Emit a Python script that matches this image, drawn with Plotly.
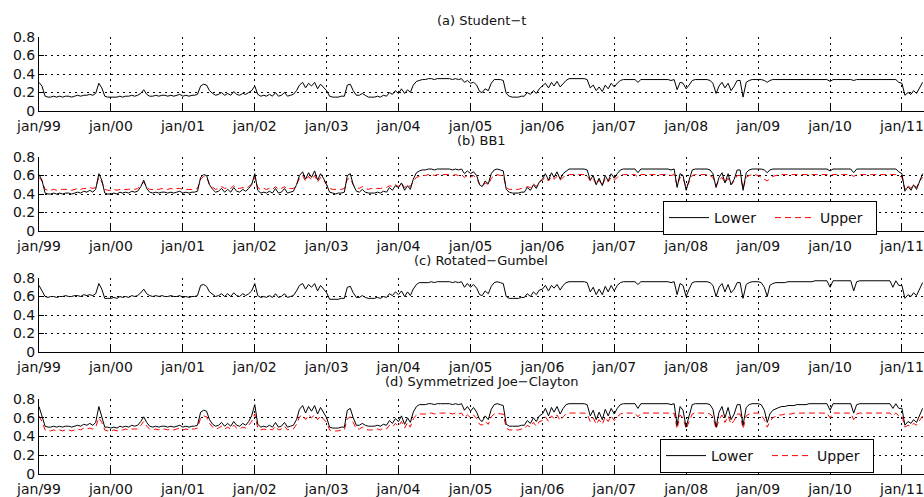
import plotly.graph_objects as go
import pandas as pd

# Semi-monthly sample dates (1st and 16th of each month), Jan 1999 - Apr 2011
dates = [pd.Timestamp(y, m, d) for y in range(1999, 2012) for m in range(1, 13) for d in (1, 16)
         if pd.Timestamp(y, m, d) <= pd.Timestamp(2011, 4, 16)]

tick_dates = [f"{y}-01-01" for y in range(1999, 2012)]
tick_labels = ["jan/99", "jan/00", "jan/01", "jan/02", "jan/03", "jan/04", "jan/05",
               "jan/06", "jan/07", "jan/08", "jan/09", "jan/10", "jan/11"]

panel_titles = ["(a) Student\u2212t", "(b) BB1", "(c) Rotated\u2212Gumbel", "(d) Symmetrized Joe\u2212Clayton"]
y_ticks = [0, 0.2, 0.4, 0.6, 0.8]
y_ticklabels = ["0", "0.2", "0.4", "0.6", "0.8"]

student_t = [
    0.31,0.27,0.16,0.15,0.15,0.16,0.15,0.16,0.15,0.16,0.16,0.15,0.16,0.17,0.16,0.17,0.17,0.18,0.17,0.19,0.30,0.25,0.16,0.15,
    0.15,0.15,0.15,0.16,0.15,0.16,0.16,0.17,0.16,0.17,0.19,0.23,0.18,0.16,0.16,0.17,0.16,0.17,0.17,0.16,0.17,0.16,0.17,0.18,
    0.16,0.17,0.16,0.17,0.17,0.18,0.27,0.29,0.28,0.22,0.19,0.17,0.18,0.20,0.17,0.19,0.17,0.21,0.18,0.17,0.19,0.18,0.20,0.22,
    0.27,0.18,0.16,0.17,0.16,0.18,0.16,0.20,0.16,0.17,0.20,0.16,0.17,0.18,0.22,0.28,0.31,0.25,0.30,0.27,0.31,0.24,0.29,0.26,
    0.22,0.16,0.15,0.15,0.15,0.16,0.16,0.28,0.29,0.22,0.17,0.17,0.19,0.17,0.15,0.15,0.15,0.16,0.15,0.17,0.16,0.20,0.18,0.22,
    0.19,0.24,0.19,0.23,0.20,0.28,0.32,0.33,0.34,0.34,0.35,0.35,0.34,0.35,0.35,0.35,0.35,0.35,0.34,0.35,0.34,0.35,0.31,0.33,
    0.30,0.31,0.28,0.21,0.20,0.24,0.22,0.30,0.34,0.34,0.34,0.33,0.19,0.16,0.15,0.15,0.15,0.16,0.16,0.20,0.18,0.22,0.19,0.24,
    0.27,0.30,0.25,0.31,0.27,0.32,0.26,0.30,0.33,0.35,0.35,0.35,0.35,0.35,0.35,0.34,0.25,0.28,0.22,0.26,0.21,0.28,0.24,0.30,
    0.26,0.30,0.33,0.34,0.34,0.34,0.34,0.34,0.31,0.34,0.34,0.34,0.34,0.34,0.34,0.34,0.34,0.34,0.34,0.33,0.34,0.23,0.31,0.30,
    0.24,0.28,0.33,0.34,0.34,0.34,0.34,0.34,0.33,0.30,0.19,0.27,0.31,0.25,0.30,0.22,0.27,0.33,0.33,0.15,0.31,0.33,0.34,0.34,
    0.34,0.34,0.33,0.31,0.33,0.34,0.34,0.34,0.34,0.34,0.34,0.34,0.34,0.34,0.34,0.34,0.34,0.34,0.34,0.34,0.34,0.34,0.34,0.34,
    0.32,0.34,0.34,0.34,0.34,0.34,0.34,0.34,0.33,0.34,0.34,0.34,0.34,0.34,0.34,0.34,0.34,0.34,0.34,0.34,0.34,0.34,0.34,0.31,
    0.30,0.17,0.20,0.18,0.22,0.19,0.25,0.31,
]

bb1_lower = [
    0.61,0.55,0.41,0.40,0.40,0.41,0.40,0.41,0.40,0.41,0.41,0.40,0.41,0.42,0.41,0.43,0.42,0.44,0.42,0.45,0.62,0.55,0.41,0.40,
    0.40,0.41,0.40,0.42,0.41,0.42,0.41,0.43,0.42,0.43,0.48,0.55,0.46,0.42,0.41,0.42,0.41,0.42,0.42,0.41,0.42,0.41,0.42,0.43,
    0.41,0.42,0.41,0.42,0.42,0.43,0.58,0.61,0.60,0.50,0.45,0.42,0.43,0.46,0.42,0.45,0.42,0.47,0.43,0.42,0.45,0.43,0.46,0.50,
    0.62,0.44,0.41,0.42,0.41,0.43,0.41,0.46,0.41,0.42,0.46,0.41,0.42,0.43,0.50,0.60,0.64,0.56,0.63,0.58,0.65,0.55,0.62,0.57,
    0.50,0.42,0.41,0.40,0.41,0.41,0.42,0.60,0.62,0.50,0.43,0.42,0.45,0.42,0.41,0.41,0.41,0.42,0.41,0.43,0.42,0.47,0.44,0.49,
    0.47,0.52,0.44,0.49,0.45,0.56,0.63,0.65,0.66,0.66,0.67,0.67,0.66,0.67,0.67,0.67,0.67,0.67,0.66,0.67,0.66,0.67,0.62,0.65,
    0.62,0.64,0.60,0.50,0.48,0.54,0.51,0.62,0.66,0.67,0.66,0.65,0.45,0.42,0.41,0.41,0.41,0.42,0.42,0.47,0.44,0.50,0.46,0.53,
    0.56,0.62,0.55,0.63,0.58,0.64,0.56,0.62,0.65,0.67,0.67,0.67,0.67,0.67,0.67,0.66,0.55,0.60,0.50,0.57,0.49,0.60,0.54,0.62,
    0.57,0.62,0.66,0.67,0.67,0.67,0.67,0.67,0.63,0.67,0.67,0.67,0.67,0.67,0.67,0.67,0.67,0.67,0.67,0.66,0.67,0.47,0.62,0.60,
    0.44,0.55,0.66,0.67,0.67,0.67,0.67,0.67,0.66,0.62,0.47,0.58,0.63,0.52,0.62,0.50,0.56,0.66,0.66,0.44,0.63,0.66,0.67,0.67,
    0.67,0.67,0.66,0.63,0.66,0.67,0.67,0.67,0.67,0.67,0.67,0.67,0.67,0.67,0.67,0.67,0.67,0.67,0.67,0.67,0.67,0.67,0.67,0.67,
    0.65,0.67,0.67,0.67,0.67,0.67,0.67,0.67,0.63,0.67,0.67,0.67,0.67,0.67,0.67,0.67,0.67,0.67,0.67,0.67,0.67,0.67,0.67,0.64,
    0.62,0.43,0.48,0.44,0.50,0.45,0.55,0.62,
]

bb1_upper = [
    0.58,0.54,0.45,0.44,0.44,0.45,0.44,0.45,0.45,0.45,0.45,0.44,0.45,0.46,0.45,0.46,0.46,0.47,0.46,0.47,0.58,0.53,0.45,0.44,
    0.44,0.45,0.44,0.45,0.45,0.45,0.45,0.46,0.45,0.46,0.49,0.53,0.47,0.45,0.45,0.45,0.45,0.46,0.45,0.45,0.46,0.45,0.46,0.46,
    0.45,0.45,0.45,0.45,0.45,0.46,0.56,0.59,0.58,0.50,0.47,0.45,0.46,0.48,0.46,0.47,0.46,0.49,0.46,0.46,0.47,0.46,0.48,0.51,
    0.58,0.47,0.45,0.46,0.45,0.46,0.45,0.48,0.45,0.46,0.48,0.45,0.46,0.46,0.50,0.57,0.60,0.54,0.59,0.55,0.60,0.53,0.58,0.55,
    0.50,0.46,0.45,0.45,0.45,0.45,0.46,0.56,0.57,0.50,0.47,0.46,0.48,0.46,0.45,0.46,0.46,0.46,0.46,0.47,0.47,0.49,0.48,0.50,
    0.48,0.52,0.47,0.50,0.48,0.54,0.58,0.59,0.60,0.60,0.61,0.61,0.60,0.61,0.61,0.61,0.61,0.61,0.60,0.61,0.60,0.61,0.58,0.60,
    0.58,0.60,0.57,0.50,0.48,0.52,0.50,0.57,0.60,0.61,0.60,0.60,0.47,0.45,0.45,0.45,0.45,0.46,0.46,0.48,0.47,0.51,0.48,0.53,
    0.55,0.58,0.54,0.59,0.56,0.59,0.55,0.58,0.60,0.61,0.61,0.61,0.61,0.61,0.61,0.60,0.54,0.57,0.50,0.55,0.49,0.57,0.53,0.58,
    0.55,0.58,0.60,0.61,0.61,0.61,0.61,0.61,0.58,0.61,0.61,0.61,0.61,0.61,0.61,0.61,0.61,0.61,0.61,0.60,0.61,0.49,0.58,0.57,
    0.47,0.53,0.60,0.61,0.61,0.61,0.61,0.61,0.60,0.58,0.49,0.55,0.58,0.52,0.57,0.50,0.54,0.60,0.60,0.46,0.58,0.60,0.61,0.61,
    0.60,0.58,0.56,0.54,0.57,0.59,0.60,0.61,0.61,0.61,0.61,0.61,0.61,0.61,0.61,0.61,0.61,0.61,0.61,0.61,0.61,0.61,0.61,0.61,
    0.60,0.61,0.61,0.61,0.61,0.61,0.61,0.61,0.59,0.61,0.61,0.61,0.61,0.61,0.61,0.61,0.61,0.61,0.61,0.61,0.61,0.61,0.61,0.60,
    0.58,0.45,0.49,0.46,0.50,0.47,0.54,0.58,
]

rot_gumbel = [
    0.72,0.66,0.60,0.59,0.60,0.60,0.59,0.60,0.60,0.61,0.60,0.60,0.61,0.61,0.60,0.62,0.61,0.62,0.61,0.63,0.74,0.68,0.58,0.58,
    0.58,0.59,0.58,0.60,0.59,0.60,0.59,0.61,0.60,0.61,0.64,0.68,0.63,0.61,0.60,0.61,0.60,0.61,0.60,0.60,0.61,0.60,0.60,0.61,
    0.59,0.60,0.59,0.60,0.60,0.61,0.72,0.73,0.71,0.65,0.62,0.60,0.61,0.63,0.60,0.63,0.60,0.64,0.61,0.60,0.63,0.61,0.63,0.66,
    0.74,0.61,0.59,0.60,0.59,0.61,0.59,0.63,0.59,0.60,0.63,0.59,0.60,0.61,0.66,0.72,0.74,0.68,0.73,0.70,0.74,0.66,0.72,0.68,
    0.64,0.57,0.57,0.57,0.57,0.58,0.58,0.70,0.71,0.64,0.59,0.59,0.61,0.59,0.58,0.58,0.58,0.59,0.58,0.60,0.59,0.63,0.61,0.65,
    0.62,0.66,0.60,0.65,0.61,0.68,0.73,0.75,0.75,0.75,0.75,0.76,0.75,0.76,0.76,0.76,0.76,0.76,0.75,0.76,0.75,0.76,0.70,0.74,
    0.70,0.73,0.69,0.62,0.61,0.66,0.63,0.71,0.75,0.76,0.75,0.74,0.60,0.58,0.58,0.58,0.58,0.59,0.59,0.63,0.60,0.65,0.62,0.67,
    0.68,0.72,0.66,0.72,0.69,0.73,0.67,0.72,0.75,0.76,0.76,0.76,0.76,0.76,0.76,0.75,0.65,0.70,0.62,0.68,0.62,0.71,0.65,0.72,
    0.66,0.72,0.75,0.76,0.76,0.76,0.76,0.76,0.73,0.76,0.76,0.76,0.76,0.76,0.76,0.76,0.76,0.76,0.76,0.75,0.76,0.62,0.74,0.72,
    0.60,0.68,0.75,0.76,0.76,0.76,0.76,0.76,0.75,0.72,0.60,0.70,0.74,0.65,0.73,0.64,0.68,0.75,0.75,0.58,0.73,0.75,0.76,0.76,
    0.76,0.75,0.70,0.60,0.72,0.74,0.75,0.75,0.75,0.75,0.76,0.76,0.76,0.76,0.76,0.76,0.76,0.76,0.76,0.77,0.77,0.77,0.77,0.77,
    0.70,0.77,0.77,0.77,0.77,0.77,0.77,0.77,0.66,0.76,0.77,0.77,0.77,0.77,0.77,0.77,0.77,0.77,0.77,0.77,0.77,0.70,0.77,0.72,
    0.72,0.58,0.62,0.60,0.64,0.61,0.68,0.75,
]

sjc_lower = [
    0.72,0.62,0.51,0.50,0.50,0.51,0.50,0.51,0.50,0.51,0.51,0.50,0.51,0.52,0.51,0.53,0.52,0.54,0.52,0.55,0.72,0.62,0.50,0.50,
    0.49,0.50,0.49,0.51,0.50,0.51,0.50,0.52,0.51,0.52,0.56,0.61,0.55,0.51,0.50,0.51,0.50,0.51,0.51,0.50,0.51,0.50,0.51,0.52,
    0.50,0.51,0.50,0.51,0.51,0.52,0.66,0.68,0.67,0.58,0.53,0.51,0.52,0.55,0.51,0.54,0.51,0.56,0.52,0.51,0.54,0.52,0.56,0.62,
    0.74,0.53,0.50,0.51,0.50,0.52,0.50,0.55,0.50,0.51,0.55,0.50,0.51,0.52,0.58,0.69,0.73,0.65,0.72,0.67,0.73,0.64,0.71,0.66,
    0.60,0.50,0.49,0.49,0.49,0.50,0.50,0.68,0.70,0.60,0.52,0.52,0.54,0.52,0.51,0.51,0.51,0.52,0.51,0.53,0.52,0.57,0.54,0.59,
    0.56,0.62,0.53,0.60,0.55,0.66,0.72,0.74,0.74,0.74,0.75,0.75,0.74,0.75,0.75,0.75,0.75,0.75,0.74,0.75,0.74,0.75,0.68,0.72,
    0.67,0.71,0.66,0.58,0.56,0.62,0.58,0.69,0.74,0.75,0.74,0.73,0.53,0.51,0.51,0.51,0.51,0.52,0.52,0.57,0.54,0.60,0.56,0.62,
    0.64,0.70,0.62,0.71,0.66,0.72,0.64,0.70,0.74,0.75,0.75,0.75,0.75,0.75,0.75,0.74,0.62,0.68,0.58,0.66,0.58,0.69,0.62,0.70,
    0.64,0.70,0.74,0.75,0.75,0.75,0.75,0.75,0.70,0.75,0.75,0.75,0.75,0.75,0.75,0.75,0.75,0.75,0.75,0.74,0.75,0.52,0.72,0.68,
    0.50,0.62,0.74,0.75,0.75,0.75,0.75,0.75,0.74,0.69,0.50,0.66,0.72,0.60,0.71,0.58,0.64,0.74,0.74,0.52,0.71,0.74,0.75,0.75,
    0.75,0.74,0.68,0.55,0.64,0.68,0.70,0.71,0.72,0.72,0.73,0.73,0.73,0.74,0.74,0.74,0.74,0.75,0.75,0.75,0.75,0.75,0.75,0.75,
    0.68,0.75,0.75,0.75,0.75,0.75,0.75,0.75,0.65,0.74,0.75,0.75,0.75,0.75,0.75,0.75,0.75,0.75,0.75,0.75,0.75,0.70,0.75,0.70,
    0.70,0.52,0.56,0.54,0.58,0.55,0.62,0.70,
]

sjc_upper = [
    0.62,0.56,0.47,0.46,0.46,0.47,0.46,0.47,0.46,0.47,0.47,0.46,0.47,0.48,0.47,0.49,0.48,0.49,0.48,0.50,0.60,0.55,0.47,0.46,
    0.46,0.47,0.46,0.47,0.47,0.48,0.47,0.48,0.48,0.48,0.52,0.56,0.51,0.48,0.47,0.48,0.47,0.48,0.48,0.47,0.48,0.47,0.48,0.49,
    0.47,0.48,0.47,0.48,0.48,0.49,0.60,0.62,0.61,0.54,0.50,0.48,0.49,0.51,0.48,0.50,0.48,0.52,0.49,0.48,0.50,0.49,0.52,0.56,
    0.64,0.49,0.47,0.48,0.47,0.48,0.47,0.51,0.47,0.48,0.51,0.47,0.48,0.48,0.53,0.61,0.63,0.58,0.63,0.60,0.63,0.58,0.62,0.59,
    0.55,0.47,0.46,0.46,0.46,0.47,0.47,0.59,0.61,0.55,0.48,0.48,0.50,0.48,0.47,0.47,0.47,0.48,0.47,0.49,0.48,0.52,0.50,0.54,
    0.51,0.56,0.49,0.55,0.50,0.59,0.63,0.64,0.64,0.64,0.65,0.65,0.64,0.65,0.65,0.65,0.65,0.65,0.64,0.65,0.64,0.65,0.60,0.63,
    0.60,0.63,0.59,0.53,0.52,0.56,0.53,0.61,0.64,0.65,0.64,0.64,0.49,0.47,0.47,0.47,0.47,0.48,0.48,0.52,0.50,0.55,0.51,0.56,
    0.57,0.61,0.56,0.62,0.59,0.63,0.57,0.61,0.64,0.65,0.65,0.65,0.65,0.65,0.65,0.64,0.56,0.60,0.53,0.58,0.53,0.61,0.56,0.62,
    0.57,0.61,0.64,0.65,0.65,0.65,0.65,0.65,0.61,0.65,0.65,0.65,0.65,0.65,0.65,0.65,0.65,0.65,0.65,0.64,0.65,0.48,0.63,0.60,
    0.48,0.56,0.64,0.65,0.65,0.65,0.65,0.65,0.64,0.61,0.48,0.58,0.63,0.55,0.62,0.53,0.57,0.64,0.64,0.48,0.62,0.64,0.65,0.65,
    0.65,0.63,0.58,0.50,0.56,0.60,0.62,0.63,0.63,0.64,0.64,0.64,0.65,0.65,0.65,0.65,0.65,0.65,0.65,0.65,0.65,0.65,0.65,0.65,
    0.60,0.65,0.65,0.65,0.65,0.65,0.65,0.65,0.58,0.64,0.65,0.65,0.65,0.65,0.65,0.65,0.65,0.65,0.65,0.65,0.65,0.62,0.65,0.62,
    0.62,0.50,0.52,0.51,0.54,0.52,0.57,0.62,
]

for name, s in [("st", student_t), ("bbl", bb1_lower), ("bbu", bb1_upper), ("rg", rot_gumbel),
                ("sjl", sjc_lower), ("sju", sjc_upper)]:
    assert len(s) == len(dates), (name, len(s), len(dates))

W, H = 924, 497
FONT = "DejaVu Sans"
TXT = "#111111"
panels_px = [(37, 111), (157, 231), (278, 352), (399, 474)]   # top, bottom of each plot area (px)
title_px = [20, 140.5, 260.5, 381.5]
x_dom = [39 / W, 1.0]
x_range = ["1999-01-01", "2011-04-23"]
RED_DASH = "6px,4px"

fig = go.Figure()

def add_line(y, k, color, dash, name, legend, show):
    fig.add_trace(go.Scatter(
        x=dates, y=y, mode="lines", name=name,
        line=dict(color=color, width=1, dash=dash),
        xaxis="x" if k == 1 else f"x{k}", yaxis="y" if k == 1 else f"y{k}",
        legend=legend, showlegend=show, hoverinfo="skip"))

add_line(student_t, 1, "black", "solid", "Lower", "legend", False)
add_line(bb1_upper, 2, "#ff0000", RED_DASH, "Upper", "legend", True)
add_line(bb1_lower, 2, "black", "solid", "Lower", "legend", True)
add_line(rot_gumbel, 3, "black", "solid", "Lower", "legend", False)
add_line(sjc_upper, 4, "#ff0000", RED_DASH, "Upper", "legend2", True)
add_line(sjc_lower, 4, "black", "solid", "Lower", "legend2", True)

layout = dict(
    template="none",
    width=W, height=H, margin=dict(l=0, r=0, t=0, b=0, pad=0),
    paper_bgcolor="white", plot_bgcolor="white",
    font=dict(family=FONT, size=14, color=TXT),
    annotations=[],
)
for i, (top, bot) in enumerate(panels_px):
    k = i + 1
    xs = "xaxis" if k == 1 else f"xaxis{k}"
    ys = "yaxis" if k == 1 else f"yaxis{k}"
    layout[xs] = dict(
        domain=x_dom, anchor="y" if k == 1 else f"y{k}", type="date", range=x_range,
        tickmode="array", tickvals=tick_dates, ticktext=tick_labels,
        ticks="inside", ticklen=8, tickcolor="black", tickwidth=1,
        showline=True, linecolor="black", linewidth=1, mirror=False,
        showgrid=True, gridcolor="black", gridwidth=1, griddash="2px,4px",
        tickfont=dict(family=FONT, size=14, color=TXT), zeroline=False,
        automargin=False, ticklabeloverflow="allow", ticklabelstandoff=2,
    )
    layout[ys] = dict(
        domain=[1 - bot / H, 1 - top / H], anchor="x" if k == 1 else f"x{k}",
        range=[0, 0.8001], tickmode="array", tickvals=y_ticks, ticktext=y_ticklabels,
        ticks="inside", ticklen=5, tickcolor="black",
        showline=True, linecolor="black", linewidth=1, mirror=False,
        showgrid=True, gridcolor="black", gridwidth=1, griddash="2px,4px",
        tickfont=dict(family=FONT, size=14, color=TXT), zeroline=False,
        automargin=False, ticklabeloverflow="allow",
    )
    layout["annotations"].append(dict(
        text=panel_titles[i], xref="paper", yref="paper",
        x=(x_dom[0] + x_dom[1]) / 2, y=1 - title_px[i] / H,
        xanchor="center", yanchor="middle", showarrow=False,
        font=dict(family=FONT, size=13, color=TXT)))

legend_style = dict(orientation="h", bgcolor="white", bordercolor="black", borderwidth=1,
                    font=dict(family=FONT, size=14, color=TXT), xanchor="left", yanchor="top",
                    traceorder="reversed", itemwidth=40, entrywidth=51, entrywidthmode="pixels")
layout["legend"] = dict(x=663 / W, y=1 - 201 / H, **legend_style)
layout["legend2"] = dict(x=660 / W, y=1 - 439 / H, **legend_style)

fig.update_layout(**layout)
fig.write_html("out.html")
